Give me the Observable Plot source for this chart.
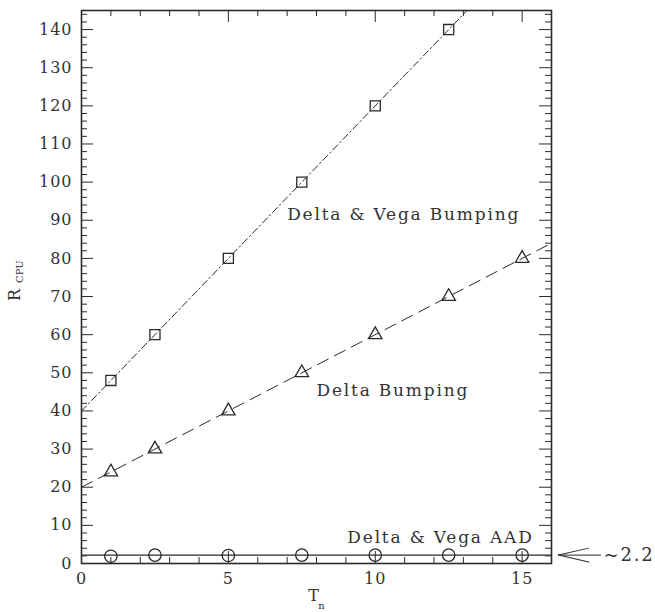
<!DOCTYPE html>
<html><head><meta charset="utf-8">
<script src="https://cdn.jsdelivr.net/npm/d3@7"></script>
<script src="https://cdn.jsdelivr.net/npm/@observablehq/plot@0.6"></script>
<style>body{margin:0;background:#fff;} #chart{width:655px;height:612px;}</style>
</head><body><div id="chart"></div>
<script>
// ---- data ----
const vegaBumpTn = [1, 2.5, 5, 7.5, 10, 12.5];
const vegaBumpR  = [48, 60, 80, 100, 120, 140];
const deltaBumpTn = [1, 2.5, 5, 7.5, 10, 12.5, 15];
const deltaBumpR  = [24, 30, 40, 50, 60, 70, 80];
const aadTn = [1, 2.5, 5, 7.5, 10, 12.5, 15];
const aadR  = [1.9, 2.2, 2.1, 2.2, 2.2, 2.2, 2.2];
// straight fit lines (end points)
const fitTn     = [0, 16];
const vegaFitR  = [40, 168];
const deltaFitR = [20, 84];
const aadFitR   = [2.2, 2.2];
// axes
const xDomain = [0, 16];
const yDomain = [0, 145];
const xTickLabels = [0, 5, 10, 15];
const yTickLabels = [0, 10, 20, 30, 40, 50, 60, 70, 80, 90, 100, 110, 120, 130, 140];
const xMinorTicks = d3.range(0, 16.01, 1);
const yMinorTicks = d3.range(0, 145, 2);
// annotations
const seriesLabels = ["Delta & Vega Bumping", "Delta Bumping", "Delta & Vega AAD"];
const seriesLabelTn = [7.0, 8.0, 9.05];
const seriesLabelR  = [91.5, 45.3, 6.8];
const aadValue = [2.2];

// ---- build ----
const W = 655, H = 612;
const mL = 81, mR = 104, mT = 10, mB = 49;
const pw = W - mL - mR, ph = H - mT - mB;
const ink = "#2a2a2a";
const textInk = "#333";
const font = "DejaVu Serif";
const majorLen = 12, minorLen = 6;

const toRows = (xs, ys) => xs.map((x, i) => ({x, y: ys[i]}));
const vegaPts = toRows(vegaBumpTn, vegaBumpR);
const deltaPts = toRows(deltaBumpTn, deltaBumpR);
const aadPts = toRows(aadTn, aadR);
const labelRows = seriesLabels.map((t, i) => ({t, x: seriesLabelTn[i], y: seriesLabelR[i]}));

const isMajorX = v => xTickLabels.includes(v);
const isMajorY = v => v % 10 === 0;
const xMinorOnly = xMinorTicks.filter(v => !isMajorX(v));
const yMinorOnly = yMinorTicks.filter(v => !isMajorY(v));

const lineShape = {draw(context, l) { context.moveTo(0, 0); context.lineTo(0, -l); }};

const plot = Plot.plot({
  width: W, height: H,
  marginLeft: mL, marginRight: mR, marginTop: mT, marginBottom: mB,
  style: {fontFamily: font, background: "#fff", color: ink, overflow: "visible"},
  x: {domain: xDomain, label: null},
  y: {domain: yDomain, label: null},
  marks: [
    // inward ticks: bottom & top
    Plot.tickX(xMinorOnly, {x: d => d, insetTop: ph - minorLen, stroke: ink, strokeWidth: 1}),
    Plot.tickX(xTickLabels, {x: d => d, insetTop: ph - majorLen, stroke: ink, strokeWidth: 1}),
    Plot.tickX(xMinorOnly, {x: d => d, insetBottom: ph - minorLen, stroke: ink, strokeWidth: 1}),
    Plot.tickX(xTickLabels, {x: d => d, insetBottom: ph - majorLen, stroke: ink, strokeWidth: 1}),
    // inward ticks: left & right
    Plot.tickY(yMinorOnly, {y: d => d, insetRight: pw - minorLen, stroke: ink, strokeWidth: 1}),
    Plot.tickY(yTickLabels, {y: d => d, insetRight: pw - majorLen, stroke: ink, strokeWidth: 1}),
    Plot.tickY(yMinorOnly, {y: d => d, insetLeft: pw - minorLen, stroke: ink, strokeWidth: 1}),
    Plot.tickY(yTickLabels, {y: d => d, insetLeft: pw - majorLen, stroke: ink, strokeWidth: 1}),
    // tick labels
    Plot.axisX(xTickLabels, {anchor: "bottom", tickSize: 0, tickPadding: 9, fontSize: 16, label: null, fill: textInk}),
    Plot.axisY(yTickLabels, {anchor: "left", tickSize: 0, tickPadding: 9, fontSize: 16, label: null, fill: textInk}),
    // fit lines
    Plot.line(toRows(fitTn, vegaFitR), {x: "x", y: "y", stroke: ink, strokeWidth: 1, strokeDasharray: "7,3,1.5,3", clip: true}),
    Plot.line(toRows(fitTn, deltaFitR), {x: "x", y: "y", stroke: ink, strokeWidth: 1, strokeDasharray: "12,7", clip: true}),
    Plot.line(toRows(fitTn, aadFitR), {x: "x", y: "y", stroke: ink, strokeWidth: 1.2, clip: true}),
    // points
    Plot.dot(vegaPts, {x: "x", y: "y", symbol: "square", r: 5.7, stroke: ink, strokeWidth: 1.3, fill: "none"}),
    Plot.dot(deltaPts, {x: "x", y: "y", symbol: "triangle", r: 5, stroke: ink, strokeWidth: 1.3, fill: "none"}),
    Plot.dot(aadPts, {x: "x", y: "y", symbol: "circle", r: 6.2, stroke: ink, strokeWidth: 1.3, fill: "none"}),
    // series labels
    Plot.text(labelRows, {x: "x", y: "y", text: "t", textAnchor: "start", fontSize: 17, fill: textInk}),
    // ~2.2 arrow outside the frame
    Plot.vector(aadValue, {x: () => xDomain[1], y: d => d, dx: 7, anchor: "start", length: 42, rotate: 90, shape: lineShape, stroke: ink, strokeWidth: 1}),
    Plot.vector(aadValue, {x: () => xDomain[1], y: d => d, dx: 7, anchor: "start", length: 31, rotate: 77, shape: lineShape, stroke: ink, strokeWidth: 1}),
    Plot.vector(aadValue, {x: () => xDomain[1], y: d => d, dx: 7, anchor: "start", length: 31, rotate: 103, shape: lineShape, stroke: ink, strokeWidth: 1}),
    Plot.text(aadValue, {x: () => xDomain[1], y: d => d, text: d => "~" + d, dx: 52, textAnchor: "start", fontSize: 18, fill: textInk}),
    // axis titles
    Plot.text(["R"], {frameAnchor: "left", text: d => d, rotate: -90, dx: -67, dy: 14, fontSize: 16, fill: textInk}),
    Plot.text(["CPU"], {frameAnchor: "left", text: d => d, rotate: -90, dx: -62, dy: -4, fontSize: 10, fill: textInk}),
    Plot.text(["T"], {frameAnchor: "bottom", text: d => d, dx: -3, dy: 37, fontSize: 16, fill: textInk}),
    Plot.text(["n"], {frameAnchor: "bottom", text: d => d, dx: 5, dy: 45, fontSize: 10, fill: textInk}),
    Plot.frame({stroke: ink, strokeWidth: 1.6})
  ]
});
const svg = d3.select(plot);
svg.selectAll("text").each(function () {
  const s = this.textContent;
  if (seriesLabels.includes(s) || s.startsWith("~")) d3.select(this).style("letter-spacing", "1.8px");
  else if (/^\d+$/.test(s)) d3.select(this).style("letter-spacing", "1px");
});
document.getElementById("chart").append(plot);
</script>
</body></html>
